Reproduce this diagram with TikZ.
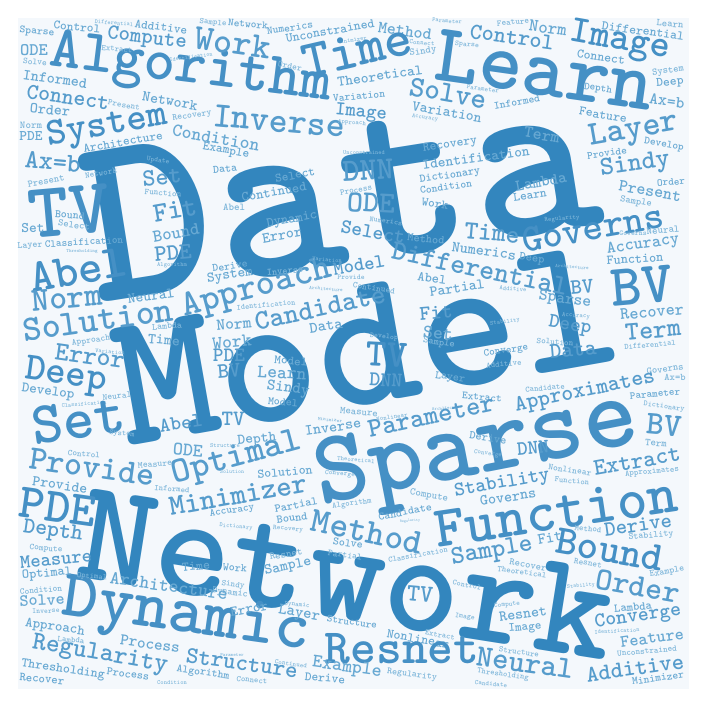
\documentclass[tikz,border=0pt]{standalone}
\usepackage{fontspec}
\definecolor{bgc}{HTML}{F4F8FC}
\definecolor{c1}{HTML}{3386BE}
\definecolor{c2}{HTML}{4590C5}
\definecolor{c3}{HTML}{569CCC}
\definecolor{c4}{HTML}{68A9D3}
\definecolor{c5}{HTML}{7DB6DA}
\newcounter{wcnt}
\tikzset{wordnode/.style={inner sep=0pt, outer sep=0pt, anchor=center}}
% x, y (px, y down), rotation, character advance (px), text
\newcommand\wordat[5]{%
  \stepcounter{wcnt}%
  \pgfmathsetmacro\wfs{#4/0.525}%
  \pgfmathtruncatemacro\wci{#4>60?1:(#4>20?2:(#4>10?3:(#4>5.5?4:5)))}%
  \node[wordnode, rotate=#3, text=c\wci, font=\ttfamily\bfseries\fontsize{\wfs}{\wfs}\selectfont] (w\thewcnt) at (#1,#2) {#5};}
\begin{document}
\begin{tikzpicture}[x=1pt,y=-1pt]
\useasboundingbox (0,0) rectangle (707,707);
\fill[bgc] (18,18) rectangle (689,689);
% big words
\wordat{340}{190}{9}{129}{Data}
\wordat{366}{345}{10}{101.5}{Model}
\wordat{347}{575}{-9}{77}{Network}
\wordat{477}{453}{11}{54.5}{Sparse}
\wordat{556}{512}{8.5}{30.6}{Function}
\wordat{545}{70}{-8}{44}{Learn}
\wordat{191}{71}{-7}{31.5}{Algorithm}
\wordat{186}{619}{-8}{35.6}{Dynamic}
% top left
\wordat{37}{32}{-5}{5.8}{Sparse}
\wordat{77}{27}{-5}{6.7}{Control}
\wordat{114}{23}{-5}{3.2}{Differential}
\wordat{161}{27}{-8}{6.6}{Additive}
\wordat{213}{23}{-5}{4.5}{Sample}
\wordat{248}{24}{-5}{5.7}{Network}
\wordat{34}{50}{0}{9.3}{ODE}
\wordat{147}{39}{-7}{11.4}{Compute}
\wordat{117}{49}{-5}{4.4}{Extract}
\wordat{233}{43}{-8}{19}{Work}
\wordat{35}{62}{-5}{4.8}{Solve}
\wordat{191}{57}{8}{3.1}{Identification}
\wordat{55}{79}{-8}{8.1}{Informed}
\wordat{68}{97}{-8}{11.9}{Connect}
\wordat{170}{101}{-10}{8}{Network}
\wordat{124}{105}{-10}{4.6}{Present}
\wordat{50}{110}{-5}{8}{Order}
\wordat{192}{116}{8}{4.9}{Recovery}
\wordat{279}{121}{-5}{18.9}{Inverse}
\wordat{107}{127}{10}{20.3}{System}
\wordat{31}{125}{0}{5.5}{Norm}
\wordat{31}{136}{0}{7.7}{PDE}
\wordat{123}{142}{10}{6.7}{Architecture}
\wordat{216}{138}{-10}{9.8}{Condition}
\wordat{226}{151}{-10}{6.7}{Example}
\wordat{53}{162}{-5}{14}{Ax=b}
\wordat{158}{161}{-8}{3.8}{Update}
\wordat{225}{169}{5}{6}{Data}
\wordat{46}{181}{10}{5.3}{Present}
\wordat{101}{173}{10}{4.6}{Network}
\wordat{162}{177}{5}{13}{Set}
\wordat{163}{193}{-5}{4.6}{Function}
\wordat{69}{211}{5}{41}{TV}
\wordat{175}{210}{10}{14.7}{Fit}
\wordat{234}{207}{0}{5.5}{Abel}
\wordat{176}{233}{10}{9.4}{Bound}
\wordat{70}{215}{-5}{6}{Bound}
\wordat{74}{225}{-8}{5.3}{Select}
\wordat{33}{228}{0}{7.7}{Set}
\wordat{30}{246}{3}{5}{Layer}
\wordat{84}{242}{3}{5.6}{Classification}
\wordat{82}{252}{0}{2.6}{Thresholding}
% top middle
\wordat{290}{28}{8}{5.8}{Numerics}
\wordat{330}{31}{10}{6.9}{Unconstrained}
\wordat{352}{40}{8}{3.3}{Minimizer}
\wordat{405}{31}{-8}{9}{Method}
\wordat{447}{21}{-5}{3.3}{Parameter}
\wordat{422}{43}{-5}{3.6}{Connect}
\wordat{423}{52}{8}{5.4}{Sindy}
\wordat{467}{45}{-5}{4}{Sparse}
\wordat{290}{66}{-10}{4.8}{Order}
\wordat{357}{50}{13}{28}{Time}
\wordat{380}{76}{8}{7.8}{Theoretical}
\wordat{448}{93}{-10}{15.6}{Solve}
\wordat{359}{96}{5}{5.8}{Variation}
\wordat{361}{113}{-5}{10.4}{Image}
\wordat{352}{123}{-5}{3.5}{Approach}
\wordat{447}{112}{-10}{7.8}{Variation}
\wordat{425}{118}{-8}{3.3}{Accuracy}
\wordat{450}{145}{8}{6.8}{Recovery}
\wordat{476}{158}{8}{7.7}{Identification}
\wordat{450}{176}{8}{6.1}{Dictionary}
\wordat{446}{187}{8}{5.8}{Condition}
\wordat{435}{204}{-8}{6.6}{Work}
\wordat{364}{153}{0}{3.2}{Unconstrained}
\wordat{368}{170}{3}{17}{DNN}
\wordat{295}{175}{10}{6.7}{Select}
\wordat{274}{192}{10}{7.3}{Continued}
\wordat{356}{190}{10}{4.6}{Process}
\wordat{371}{203}{-3}{16}{ODE}
\wordat{292}{220}{10}{7.3}{Dynamic}
\wordat{282}{235}{10}{8}{Error}
\wordat{386}{221}{-8}{4.1}{Numerics}
\wordat{373}{232}{-10}{10.8}{Select}
\wordat{426}{239}{-5}{6.2}{Method}
% top right
\wordat{513}{22}{5}{4.6}{Feature}
\wordat{548}{28}{-8}{9.5}{Norm}
\wordat{512}{37}{-8}{12.1}{Control}
\wordat{620}{42}{-10}{20.3}{Image}
\wordat{643}{31}{-8}{6.9}{Differential}
\wordat{670}{24}{-5}{5.4}{Learn}
\wordat{601}{57}{-8}{6.9}{Connect}
\wordat{668}{71}{8}{5.3}{System}
\wordat{670}{83}{5}{6.8}{Deep}
\wordat{483}{89}{-8}{3.6}{Parameter}
\wordat{598}{89}{-8}{5.6}{Depth}
\wordat{667}{101}{-8}{8.8}{Ax=b}
\wordat{517}{102}{10}{5.8}{Informed}
\wordat{603}{115}{-10}{6.9}{Feature}
\wordat{634}{131}{10}{18}{Layer}
\wordat{542}{135}{-10}{9}{Term}
\wordat{664}{145}{-10}{5.7}{Develop}
\wordat{607}{153}{8}{5.7}{Provide}
\wordat{635}{165}{8}{14}{Sindy}
\wordat{541}{182}{10}{8.6}{Lambda}
\wordat{530}{195}{8}{6.7}{Learn}
\wordat{671}{182}{5}{5.6}{Order}
\wordat{650}{191}{-10}{9}{Present}
\wordat{636}{202}{-10}{5.3}{Sample}
\wordat{562}{219}{5}{3.5}{Regularity}
\wordat{593}{228}{10}{20.5}{Governs}
\wordat{492}{233}{-5}{13.8}{Time}
\wordat{663}{230}{5}{5.5}{Neural}
\wordat{633}{233}{0}{3.9}{Governs}
\wordat{643}{245}{8}{9.1}{Accuracy}
% middle right
\wordat{484}{251}{-8}{8.1}{Numerics}
\wordat{532}{259}{-8}{6.3}{Deep}
\wordat{572}{267}{-5}{2.8}{Architecture}
\wordat{635}{259}{3}{7.1}{Function}
\wordat{480}{269}{-12}{14.9}{Differential}
\wordat{582}{287}{5}{11.5}{BV}
\wordat{457}{288}{8}{7.9}{Partial}
\wordat{513}{289}{-5}{3.4}{Additive}
\wordat{642}{286}{5}{31}{BV}
\wordat{565}{300}{-8}{8.8}{Sparse}
\wordat{576}{316}{-5}{3.5}{Accuracy}
\wordat{652}{312}{5}{9.1}{Recover}
\wordat{505}{322}{8}{3.3}{Stability}
\wordat{570}{326}{-10}{10.8}{Deep}
\wordat{653}{330}{5}{14}{Term}
\wordat{555}{342}{-5}{4.6}{Solution}
\wordat{506}{351}{8}{5.6}{Converge}
\wordat{573}{350}{5}{11.7}{Data}
\wordat{650}{345}{5}{4.3}{Differential}
\wordat{504}{364}{5}{4.4}{Additive}
\wordat{665}{369}{8}{5.3}{Governs}
\wordat{675}{377}{0}{5.3}{Ax=b}
\wordat{482}{397}{-5}{5.7}{Extract}
\wordat{545}{388}{5}{4.4}{Candidate}
\wordat{585}{392}{12}{11.9}{Approximates}
\wordat{655}{394}{5}{5.6}{Parameter}
\wordat{664}{407}{-8}{4.1}{Dictionary}
\wordat{664}{425}{-5}{17.5}{BV}
\wordat{656}{443}{-5}{5.5}{Term}
\wordat{488}{438}{-8}{6.2}{Derive}
\wordat{533}{448}{5}{10.7}{DNN}
\wordat{488}{454}{-8}{3.5}{Converge}
\wordat{570}{470}{-8}{4.8}{Nonlinear}
\wordat{637}{461}{10}{12.5}{Extract}
\wordat{652}{472}{5}{4.5}{Approximates}
% bottom right
\wordat{502}{484}{10}{10.7}{Stability}
\wordat{572}{481}{-5}{4.3}{Function}
\wordat{508}{497}{8}{8.1}{Governs}
\wordat{588}{529}{-5}{4.5}{Method}
\wordat{638}{525}{8}{11.3}{Derive}
\wordat{550}{538}{10}{8.3}{Fit}
\wordat{651}{536}{5}{5}{Stability}
\wordat{610}{550}{-10}{21.7}{Bound}
\wordat{492}{552}{10}{13.7}{Sample}
\wordat{528}{565}{-10}{5.3}{Recover}
\wordat{522}{572}{-8}{4.5}{Theoretical}
\wordat{588}{563}{-10}{4.7}{Resnet}
\wordat{667}{572}{10}{5}{Example}
\wordat{638}{586}{-10}{16.9}{Order}
\wordat{581}{586}{5}{3.1}{Stability}
\wordat{467}{585}{-10}{4.1}{Control}
\wordat{507}{605}{5}{3.7}{Compute}
\wordat{523}{614}{8}{8}{Resnet}
\wordat{525}{628}{5}{6.6}{Image}
\wordat{633}{607}{5}{6.3}{Lambda}
\wordat{638}{617}{8}{10.9}{Converge}
\wordat{617}{631}{3}{3.2}{Identification}
\wordat{652}{638}{8}{9.1}{Feature}
\wordat{519}{652}{-8}{4.5}{Structure}
\wordat{647}{651}{5}{4.6}{Unconstrained}
\wordat{525}{663}{-8}{16.3}{Neural}
\wordat{635}{668}{8}{12.3}{Additive}
\wordat{503}{675}{-8}{4.3}{Thresholding}
\wordat{491}{684}{-5}{3.6}{Candidate}
\wordat{658}{678}{8}{5.8}{Minimizer}
% bottom middle
\wordat{285}{472}{5}{6.9}{Solution}
\wordat{340}{474}{-5}{3.75}{Converge}
\wordat{238}{495}{10}{15.5}{Minimizer}
\wordat{296}{505}{10}{6.2}{Partial}
\wordat{352}{504}{8}{4.4}{Algorithm}
\wordat{429}{496}{-10}{5.5}{Compute}
\wordat{405}{512}{10}{6}{Candidate}
\wordat{410}{521}{5}{2}{Regularity}
\wordat{292}{518}{8}{6.2}{Bound}
\wordat{288}{529}{-5}{3.75}{Recovery}
\wordat{367}{532}{-12}{18.7}{Method}
\wordat{348}{543}{-8}{6}{Solve}
\wordat{345}{555}{-8}{4.9}{Partial}
\wordat{418}{555}{10}{4.3}{Classification}
\wordat{286}{554}{10}{5.5}{Resnet}
\wordat{288}{567}{12}{7.9}{Sample}
\wordat{235}{568}{-5}{6}{Work}
\wordat{233}{585}{-8}{4.6}{Sindy}
\wordat{230}{593}{-8}{5.1}{Dynamic}
\wordat{249}{609}{10}{7.6}{Error}
\wordat{297}{605}{-5}{3.6}{Dynamic}
\wordat{299}{614}{-10}{8.4}{Layer}
\wordat{352}{622}{-8}{5.6}{Structure}
\wordat{420}{594}{-5}{13}{TV}
\wordat{418}{639}{-10}{7}{Nonlinear}
\wordat{440}{635}{-10}{4.3}{Extract}
\wordat{465}{617}{-8}{4}{Image}
\wordat{291}{664}{-8}{3.6}{Continued}
\wordat{252}{680}{-5}{4.4}{Connect}
\wordat{402}{649}{0}{25.8}{Resnet}
\wordat{347}{668}{-8}{10}{Example}
\wordat{325}{678}{-5}{6.7}{Derive}
\wordat{412}{675}{-8}{5}{Regularity}
\wordat{242}{663}{-8}{12.5}{Structure}
% bottom left
\wordat{92}{467}{-8}{18}{Provide}
\wordat{237}{459}{15}{19}{Optimal}
\wordat{60}{485}{-8}{7.9}{Provide}
\wordat{172}{489}{-5}{4.4}{Informed}
\wordat{58}{507}{-8}{25.7}{PDE}
\wordat{53}{532}{-8}{12}{Depth}
\wordat{46}{549}{-5}{4.7}{Compute}
\wordat{56}{559}{5}{10.3}{Measure}
\wordat{47}{574}{5}{7.1}{Optimal}
\wordat{92}{577}{-5}{4.3}{Optimal}
\wordat{41}{590}{5}{4.7}{Condition}
\wordat{42}{600}{3}{9}{Solve}
\wordat{46}{611}{3}{3.9}{Inverse}
\wordat{169}{586}{-8}{9.9}{Architecture}
\wordat{55}{628}{-8}{7.5}{Approach}
\wordat{71}{640}{-5}{4.5}{Lambda}
\wordat{150}{644}{-8}{8.6}{Process}
\wordat{100}{655}{-10}{13.7}{Regularity}
\wordat{63}{670}{-8}{7}{Thresholding}
\wordat{42}{679}{-5}{6.4}{Recover}
\wordat{128}{674}{-8}{6.1}{Process}
\wordat{203}{673}{-8}{5.9}{Algorithm}
\wordat{172}{683}{0}{3.3}{Condition}
\wordat{232}{655}{0}{2.6}{Parameter}
\wordat{232}{511}{8}{5.6}{Accuracy}
\wordat{232}{472}{0}{3}{Solution}
\wordat{236}{527}{-5}{3.3}{Dictionary}
\wordat{196}{566}{5}{7}{Time}
% middle left
\wordat{173}{253}{5}{12.3}{PDE}
\wordat{172}{265}{0}{3.3}{Algorithm}
\wordat{78}{270}{10}{24.6}{Abel}
\wordat{230}{266}{8}{5.9}{Derive}
\wordat{230}{276}{8}{7.7}{System}
\wordat{67}{298}{5}{17.8}{Norm}
\wordat{151}{296}{8}{7.8}{Neural}
\wordat{257}{289}{15}{19.3}{Approach}
\wordat{98}{320}{8}{19}{Solution}
\wordat{167}{326}{5}{5}{Lambda}
\wordat{164}{340}{-5}{8}{Time}
\wordat{91}{341}{8}{4.8}{Approach}
\wordat{110}{352}{-5}{3.3}{Variation}
\wordat{90}{356}{-8}{14}{Error}
\wordat{234}{324}{5}{8.8}{Norm}
\wordat{232}{342}{5}{9.8}{Work}
\wordat{229}{355}{0}{10.7}{PDE}
\wordat{229}{371}{5}{11.5}{BV}
\wordat{66}{377}{-8}{20.5}{Deep}
\wordat{48}{392}{-8}{7.6}{Develop}
\wordat{117}{396}{5}{4.8}{Neural}
\wordat{84}{404}{5}{3.2}{Classification}
\wordat{78}{420}{8}{31.3}{Set}
\wordat{122}{434}{-5}{4.2}{System}
\wordat{181}{423}{8}{10.8}{Abel}
\wordat{188}{450}{-5}{10}{ODE}
\wordat{84}{454}{-5}{4.6}{Control}
\wordat{155}{464}{5}{4.9}{Measure}
\wordat{225}{446}{0}{3.3}{Structure}
\wordat{233}{419}{0}{11.5}{TV}
% centre
\wordat{327}{260}{-5}{3.3}{Variation}
\wordat{285}{271}{5}{5.2}{Inverse}
\wordat{359}{265}{10}{10.4}{Model}
\wordat{351}{277}{0}{3.9}{Provide}
\wordat{432}{278}{-8}{7.2}{Abel}
\wordat{326}{289}{-5}{2.8}{Architecture}
\wordat{374}{288}{-8}{4.7}{Continued}
\wordat{266}{305}{5}{4.2}{Identification}
\wordat{320}{308}{12}{14.8}{Candidate}
\wordat{326}{326}{8}{8.3}{Data}
\wordat{436}{313}{5}{11}{Fit}
\wordat{438}{333}{-5}{10}{Set}
\wordat{439}{343}{-8}{5.3}{Sample}
\wordat{384}{337}{-5}{4}{Develop}
\wordat{387}{355}{-3}{20.5}{TV}
\wordat{386}{380}{-3}{11}{DNN}
\wordat{291}{361}{-5}{6.6}{Model}
\wordat{282}{373}{-3}{9.8}{Learn}
\wordat{288}{389}{-8}{8.6}{Sindy}
\wordat{283}{402}{-5}{6}{Model}
\wordat{450}{378}{-8}{6}{Layer}
\wordat{359}{412}{-5}{5.4}{Measure}
\wordat{330}{420}{-5}{2.7}{Minimizer}
\wordat{392}{417}{8}{3.5}{Nonlinear}
\wordat{447}{408}{5}{2.5}{Architecture}
\wordat{431}{416}{12}{14.3}{Parameter}
\wordat{333}{427}{8}{8.1}{Inverse}
\wordat{257}{440}{5}{7.8}{Depth}
\wordat{356}{460}{-5}{3.4}{Theoretical}
\end{tikzpicture}
\end{document}
